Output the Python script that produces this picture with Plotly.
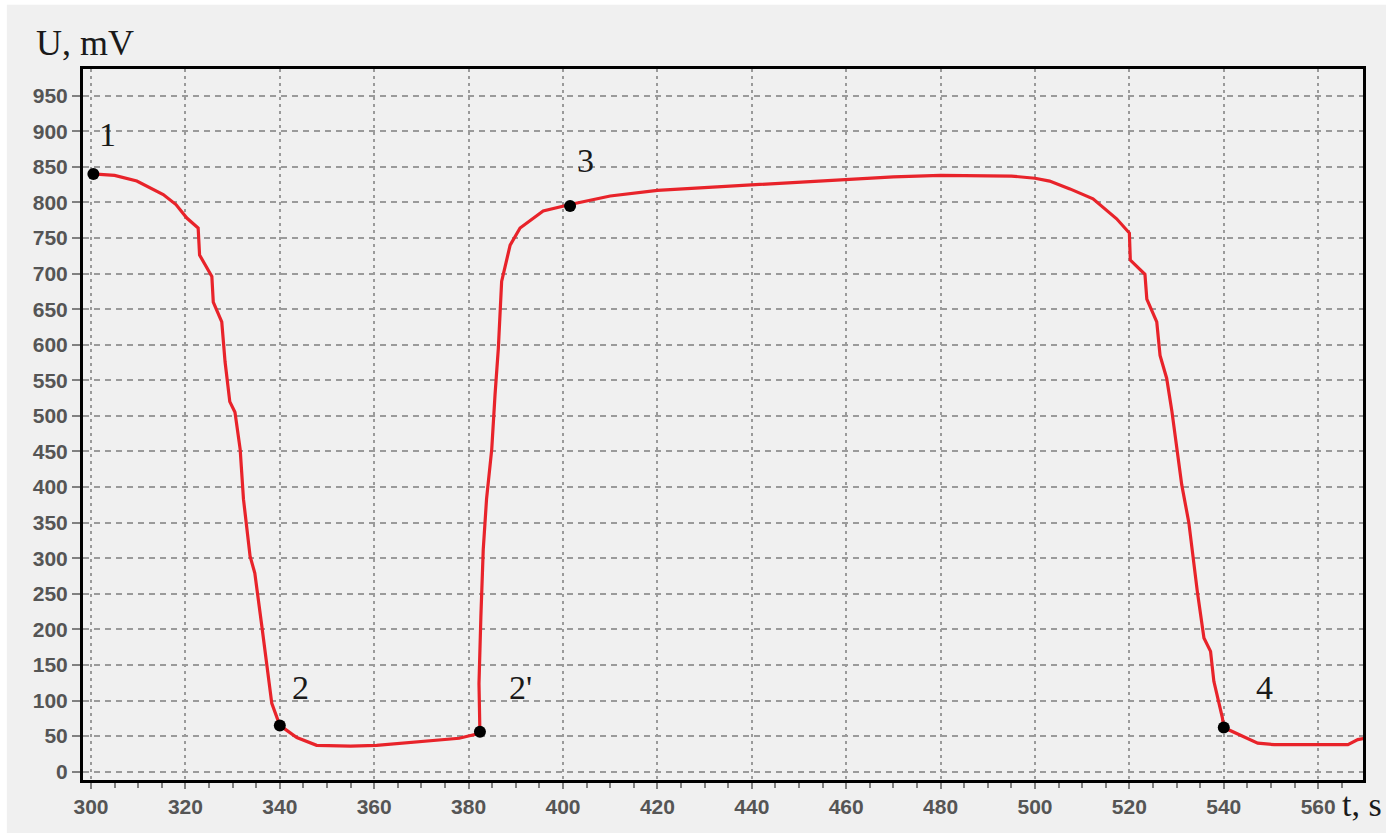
import plotly.graph_objects as go

# ---- data ----
t_s = [300.3, 305, 309.7, 315.3, 318, 320.3, 322.7, 323.0, 325.6, 325.9, 327.7, 328.4,
       329.4, 330.5, 331.6, 332.3, 333.7, 334.7, 336.2, 337.2, 338.3, 340, 343.6, 347.8,
       355, 360.5, 366, 372.5, 378, 382.4, 382.2, 382.6, 383.1, 383.8, 384.9, 385.6,
       386.3, 387, 388.8, 390.9, 395.8, 401.5, 410, 420, 430, 440, 450, 460, 470, 480,
       490, 495, 500, 503.1, 507.4, 512.3, 517.3, 520, 520.2, 523.3, 523.7, 525.8,
       526.5, 527.9, 529, 530, 531.1, 532.6, 534.4, 535.8, 537.2, 537.9, 539.7, 540,
       543.6, 547.2, 550.7, 560, 566.3, 568.4, 570]
u_mv = [840, 838, 830, 811, 797, 778, 764, 726, 696, 660, 632, 576,
        520, 505, 453, 383, 303, 279, 204, 152, 96, 65, 48, 37,
        36, 37, 40, 44, 47, 54, 124, 218, 312, 383, 453, 530,
        595, 689, 740, 764, 788, 797, 809, 817, 821, 825, 829, 833, 836, 838,
        838, 837, 834, 830, 819, 805, 777, 757, 719, 699, 664, 632,
        585, 553, 507, 460, 403, 350, 253, 188, 169, 127, 76, 62,
        51, 40, 38, 38, 38, 45, 47]

point_labels = ["1", "2", "2'", "3", "4"]
point_t = [300.5, 340.0, 382.4, 401.5, 540.0]
point_u = [840, 65, 56, 795, 62]
label_t = [303.4, 344.3, 390.9, 404.7, 548.7]
label_u = [895, 118, 118, 859, 118]

x_ticks = list(range(300, 561, 20))
y_ticks = list(range(0, 951, 50))
x_title = "t, s"
y_title = "U, mV"

# ---- figure ----
fig = go.Figure()
fig.add_trace(go.Scatter(x=t_s, y=u_mv, mode="lines",
                         line=dict(color="#e8232a", width=3.2), hoverinfo="skip"))
fig.add_trace(go.Scatter(x=point_t, y=point_u, mode="markers",
                         marker=dict(color="black", size=12), hoverinfo="skip"))

serif = "Liberation Serif, Times New Roman, serif"
for lab, xt, yu in zip(point_labels, label_t, label_u):
    fig.add_annotation(x=xt, y=yu, text=lab, showarrow=False,
                       font=dict(family=serif, size=34, color="#1a1a1a"))

fig.add_annotation(xref="paper", yref="paper", x=-0.0385, y=1.0366, text=y_title,
                   showarrow=False, xanchor="left", yanchor="middle",
                   font=dict(family=serif, size=36, color="#1a1a1a"))
fig.add_annotation(xref="paper", yref="paper", x=0.982, y=-0.035, text=x_title,
                   showarrow=False, xanchor="left", yanchor="middle",
                   font=dict(family=serif, size=34, color="#1a1a1a"))

tickfont = dict(family="Liberation Sans, Arial, sans-serif", size=21,
                color="#555555", weight="bold")

fig.update_xaxes(range=[298.3, 569.5], tickvals=x_ticks, ticks="outside",
                 ticklen=6, tickwidth=1.5, tickcolor="#808080",
                 tickfont=tickfont, showgrid=True, gridcolor="#9a9a9a",
                 gridwidth=1.5, griddash="3px,4px", zeroline=False,
                 showline=True, linecolor="black", linewidth=3, mirror=True,
                 minor=dict(dtick=5, tick0=300, ticks="outside", ticklen=5,
                            tickwidth=1.5, tickcolor="#808080", showgrid=False))
fig.update_yaxes(range=[-11.7, 987.5], tickvals=y_ticks, ticks="outside",
                 ticklen=8, tickwidth=1.5, tickcolor="#808080",
                 tickfont=tickfont, showgrid=True, gridcolor="#9a9a9a",
                 gridwidth=1.5, griddash="6px,5px", zeroline=False,
                 showline=True, linecolor="black", linewidth=3, mirror=True)

# thin white frame at the left and top of the picture
fig.add_shape(type="rect", xref="paper", yref="paper", x0=-0.07, x1=-0.0595,
              y0=-0.08, y1=1.1, fillcolor="white", line_width=0, layer="above")
fig.add_shape(type="rect", xref="paper", yref="paper", x0=-0.07, x1=1.02,
              y0=1.0905, y1=1.1, fillcolor="white", line_width=0, layer="above")

fig.update_layout(width=1386, height=833,
                  margin=dict(l=83, r=23, t=69, b=53),
                  paper_bgcolor="#f0f0f0", plot_bgcolor="#f0f0f0",
                  showlegend=False)

fig.write_html("out.html")
